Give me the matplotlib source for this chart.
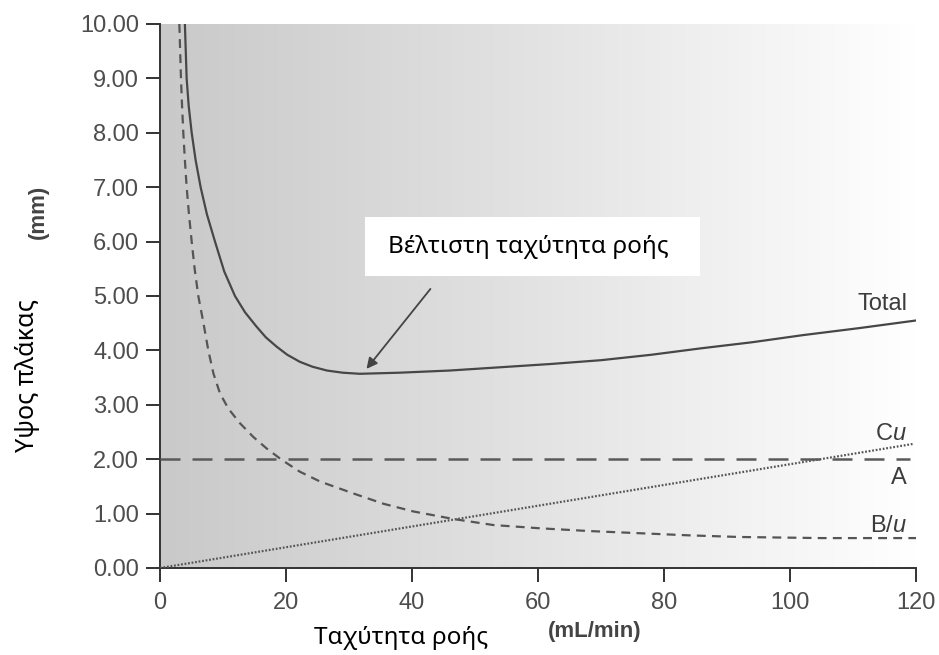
import numpy as np
import matplotlib
matplotlib.use('Agg')
import matplotlib.pyplot as plt
from matplotlib.colors import LinearSegmentedColormap
from matplotlib.patches import Rectangle

plt.rcParams['font.family'] = ['Liberation Sans', 'DejaVu Sans']
plt.rcParams['mathtext.fontset'] = 'custom'
plt.rcParams['mathtext.rm'] = 'Liberation Sans'
plt.rcParams['mathtext.it'] = 'Liberation Sans:italic'

# values
total_x = [3.95, 4.23, 4.55, 5.03, 5.65, 6.45, 7.45, 8.73, 10.2, 11.9, 13.5, 15.3, 16.8, 18.5,
           20.2, 22.2, 24.2, 26.5, 29.0, 31.7, 38.0, 46.0, 54.0, 62.0, 70.0, 78.0, 86.0, 94.0,
           102.0, 111.0, 120.0]
total_y = [10.0, 9.0, 8.5, 8.0, 7.5, 7.0, 6.5, 6.0, 5.45, 5.0, 4.7, 4.44, 4.24, 4.07,
           3.92, 3.79, 3.7, 3.63, 3.59, 3.57, 3.59, 3.63, 3.69, 3.75, 3.82, 3.92, 4.04, 4.15,
           4.28, 4.41, 4.55]

bu_x = [3.07, 3.2, 3.33, 3.5, 3.7, 3.95, 4.23, 4.6, 5.03, 5.5, 6.08, 6.9, 7.67, 8.47, 9.52,
        10.85, 12.7, 14.8, 16.9, 19.3, 22.2, 25.4, 30.7, 35.5, 40.2, 46.6, 52.9, 60.3, 68.0,
        76.0, 84.0, 92.0, 105.0, 120.0]
bu_y = [10.0, 9.5, 9.0, 8.5, 8.0, 7.5, 7.0, 6.5, 6.0, 5.5, 5.0, 4.5, 4.0, 3.58, 3.21,
        2.93, 2.66, 2.41, 2.2, 1.99, 1.77, 1.59, 1.37, 1.18, 1.04, 0.90, 0.79, 0.73, 0.68,
        0.64, 0.60, 0.57, 0.55, 0.55]

cu_x = [0, 119.5]
cu_y = [0, 2.28]

a_x = [0, 119]
a_y = [2.0, 2.0]

x_ticks = [0, 20, 40, 60, 80, 100, 120]
y_ticks = [0, 1, 2, 3, 4, 5, 6, 7, 8, 9, 10]

fig = plt.figure(figsize=(9.39, 6.55), dpi=100)
ax = fig.add_axes([160 / 939, 1 - 568 / 655, 756 / 939, 544 / 655])

# grey-to-white background
cmap = LinearSegmentedColormap.from_list('bg', ['#c9c9c9', '#e3e3e3', '#ffffff'])
ax.imshow(np.linspace(0, 1, 256).reshape(1, -1), extent=[0, 120, 0, 10],
          aspect='auto', cmap=cmap, zorder=0)

ax.plot(total_x, total_y, color='#474747', lw=1.6, zorder=3)
ax.plot(bu_x, bu_y, color='#555555', lw=1.6, dashes=(4.0, 2.8), zorder=3)
ax.plot(cu_x, cu_y, color='#555555', lw=1.6, dashes=(0.8, 0.8), zorder=3)
ax.plot(a_x, a_y, color='#5a5a5a', lw=1.8, dashes=(8.0, 4.8), zorder=3)

ax.set_xlim(0, 120)
ax.set_ylim(0, 10)
ax.set_xticks(x_ticks)
ax.set_yticks(y_ticks)
ax.set_yticklabels([f'{v:.2f}' for v in y_ticks])
ax.tick_params(labelsize=17, colors='#333333', labelcolor='#4d4d4d', length=10, width=1.4)
ax.tick_params(axis='y', pad=5)
ax.tick_params(axis='x', pad=7)
for s in ['top', 'right']:
    ax.spines[s].set_visible(False)
for s in ['left', 'bottom']:
    ax.spines[s].set_color('#333333')
    ax.spines[s].set_linewidth(1.4)

# curve labels
lab = dict(fontsize=17, color='#3c3c3c', ha='right', va='center', zorder=4)
ax.text(118.6, 4.85, 'Total', **lab)
ax.text(118.6, 2.46, r'C$\mathit{u}$', **lab)
ax.text(118.6, 1.66, 'A', **lab)
ax.text(118.6, 0.77, r'B/$\mathit{u}$', **lab)

# annotation box + arrow
ax.add_patch(Rectangle((32.5, 5.37), 53.2, 1.09, facecolor='white', edgecolor='none', zorder=4))
ax.text(36.2, 5.9, 'Βέλτιστη ταχύτητα ροής', fontsize=17.5, family=['Noto Sans', 'DejaVu Sans'],
        color='black', va='center', ha='left', zorder=5)
ax.annotate('', xy=(32.5, 3.62), xytext=(43.2, 5.17),
            arrowprops=dict(arrowstyle='-|>', color='#444444', lw=1.3, mutation_scale=16), zorder=5)

# axis titles
fig.text(28 / 939, 1 - 376 / 655, 'Υψος πλάκας', rotation=90, fontsize=18,
         family=['Noto Sans', 'DejaVu Sans'], ha='center', va='center')
fig.text(38 / 939, 1 - 212 / 655, '(mm)', rotation=90, fontsize=16, fontweight='bold',
         color='#444444', ha='center', va='center')
fig.text(401 / 939, 1 - 638 / 655, 'Ταχύτητα ροής', fontsize=17.5,
         family=['Noto Sans', 'DejaVu Sans'], ha='center', va='center')
fig.text(595 / 939, 1 - 632 / 655, '(mL/min)', fontsize=16, fontweight='bold',
         color='#444444', ha='center', va='center')

fig.savefig('out.png', dpi=100)
